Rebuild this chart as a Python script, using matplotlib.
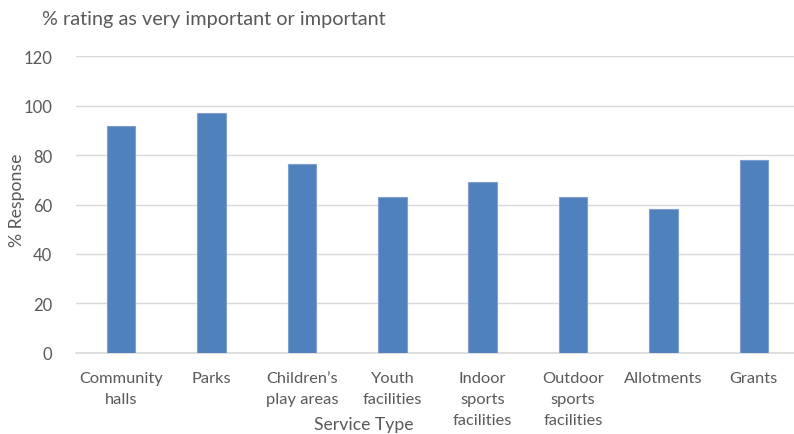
import matplotlib.pyplot as plt
import numpy as np

# data
categories = ['Community\nhalls', 'Parks', 'Children\u2019s\nplay areas', 'Youth\nfacilities',
              'Indoor\nsports\nfacilities', 'Outdoor\nsports\nfacilities', 'Allotments', 'Grants']
values = [91.7, 97.0, 76.3, 63.0, 69.1, 63.0, 58.1, 77.9]
yticks = [0, 20, 40, 60, 80, 100, 120]

plt.rcParams['font.family'] = ['Lato', 'DejaVu Sans']
grey = '#595959'

fig = plt.figure(figsize=(7.94, 4.35), dpi=100)
ax = fig.add_axes([76/794, 1-353.7/435, 723/794, (353.7-57.3)/435])

x = np.arange(len(categories))
ax.bar(x, values, width=0.315, color='#4f81bd', edgecolor='#7f9fd3', linewidth=0.8, zorder=3)

ax.set_xlim(-0.5, len(categories)-0.5)
ax.set_ylim(0, 120)
ax.set_yticks(yticks)
ax.set_yticklabels([str(t) for t in yticks], color=grey, fontsize=12)
ax.set_xticks(x)
ax.set_xticklabels(categories, color=grey, fontsize=11.8, linespacing=1.65, va='top')
ax.tick_params(axis='both', length=0)
ax.tick_params(axis='x', pad=13)
ax.tick_params(axis='y', pad=17)

ax.grid(axis='y', color='#d9d9d9', linewidth=1, zorder=0)
for s in ['top', 'right', 'left']:
    ax.spines[s].set_visible(False)
ax.spines['bottom'].set_color('#d9d9d9')
ax.spines['bottom'].set_linewidth(1.2)

fig.text(42/794, 1-20/435, '% rating as very important or important', color=grey,
         fontsize=14.3, ha='left', va='center')
fig.text(17/794, 1-200/435, '% Response', color=grey, fontsize=12.7,
         rotation=90, ha='center', va='center')
fig.text(364/794, 1-425/435, 'Service Type', color=grey, fontsize=12.7,
         ha='center', va='center')

fig.savefig('out.png', dpi=100)
